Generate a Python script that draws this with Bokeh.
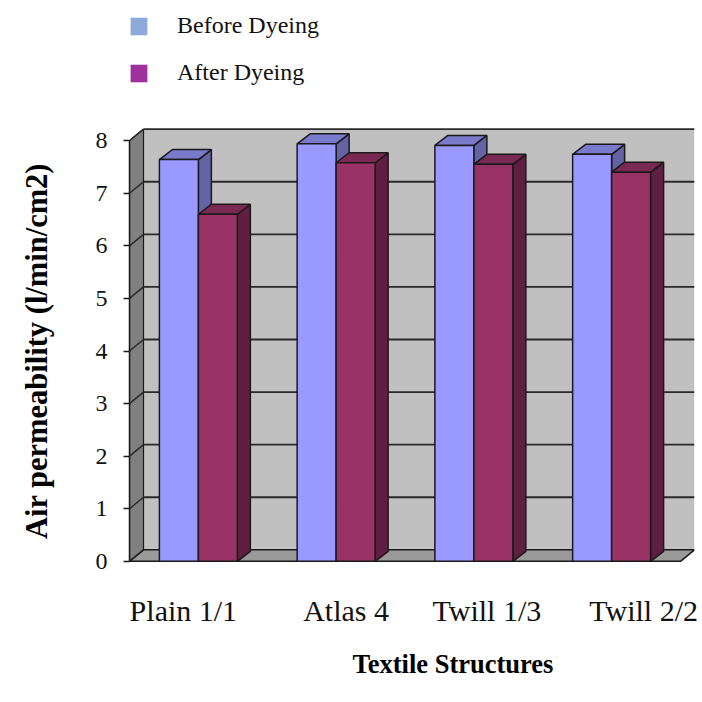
from bokeh.plotting import figure
from bokeh.layouts import column
from bokeh.models import (Range1d, FixedTicker, Legend, LegendItem, Title,
                          ColumnDataSource)
from bokeh.embed import file_html
from bokeh.resources import INLINE

# ---------------- data ----------------
categories = ["Plain 1/1", "Atlas 4", "Twill 1/3", "Twill 2/2"]
before_dyeing = [7.64, 7.94, 7.91, 7.74]
after_dyeing = [6.60, 7.58, 7.55, 7.40]
series_names = ["Before Dyeing", "After Dyeing"]
y_ticks = [0, 1, 2, 3, 4, 5, 6, 7, 8]
y_title = "Air permeability (l/min/cm2)"
x_title = "Textile Structures"

# ---------------- style ----------------
FONT = "Liberation Serif"
LEG_H = 100
FRAME_W, FRAME_H = 565, 447
PX_X = 137.75
Y0, Y1 = -0.25, 8.25
PX_Y = FRAME_H / (Y1 - Y0)
X1 = FRAME_W / PX_X
WALL_DX, WALL_DY = 14 / PX_X, 11.5 / PX_Y
BAR_DX, BAR_DY = 13 / PX_X, 10 / PX_Y
BAR_W = 0.283
LABEL_SHIFT_PX = [-15, 10, 13, 32]
EDGE = "#1a1a1a"

bar_styles = [
    dict(front="#9999FF", top="#7A7ACC", side="#6363A6"),
    dict(front="#993366", top="#7A2952", side="#601F40"),
]
legend_colors = ["#8EAADB", "#A0309E"]

ncat = len(categories)
ymax = max(y_ticks)

# ================= legend strip =================
lg = figure(width=702, height=LEG_H, output_backend="svg", toolbar_location=None,
            x_range=Range1d(0, 1), y_range=Range1d(0, 1),
            x_axis_location=None, y_axis_location=None,
            min_border=0)
lg.outline_line_color = None
lg.grid.visible = False
# zero-size swatch glyphs: only their legend entries are visible
leg_r = [lg.quad(left=[0], right=[0], top=[0], bottom=[0], fill_color=c, line_color=None)
         for c in legend_colors]
legend = Legend(items=[LegendItem(label=n, renderers=[r]) for n, r in zip(series_names, leg_r)],
                location=(-1, 14), orientation="vertical",
                glyph_width=21, glyph_height=22, label_height=22,
                label_standoff=28, spacing=20, padding=0, margin=0,
                border_line_color=None, background_fill_alpha=0,
                label_text_font=FONT, label_text_font_size="24px",
                label_text_color="#111111")
lg.add_layout(legend)

# ================= main chart =================
p = figure(width=702, height=702 - LEG_H, output_backend="svg", toolbar_location=None,
           x_range=Range1d(0, X1), y_range=Range1d(Y0, Y1),
           min_border_left=129, min_border_right=8,
           min_border_top=127 - LEG_H, min_border_bottom=702 - LEG_H - (127 - LEG_H) - FRAME_H)
p.outline_line_color = None
p.grid.visible = False

# ---- 3D walls ----
p.quad(left=[WALL_DX], right=[ncat + WALL_DX], bottom=[WALL_DY], top=[ymax + WALL_DY],
       fill_color="#C0C0C0", line_color=None)
p.patch(x=[0, WALL_DX, WALL_DX, 0], y=[0, WALL_DY, ymax + WALL_DY, ymax],
        fill_color="#808080", line_color=EDGE, line_width=1.2)
p.patch(x=[0, ncat, ncat + WALL_DX, WALL_DX], y=[0, 0, WALL_DY, WALL_DY],
        fill_color="#9A9A9A", line_color=EDGE, line_width=1.5)

grid_vals = [v for v in y_ticks if v > 0]
p.segment(x0=[WALL_DX] * len(grid_vals), y0=[v + WALL_DY for v in grid_vals],
          x1=[ncat + WALL_DX] * len(grid_vals), y1=[v + WALL_DY for v in grid_vals],
          line_color="#2a2a2a", line_width=1.8)
p.segment(x0=[0] * len(y_ticks), y0=y_ticks,
          x1=[WALL_DX] * len(y_ticks), y1=[v + WALL_DY for v in y_ticks],
          line_color="#2a2a2a", line_width=1.5)

# ---- 3D bars ----
for s, vals in enumerate([before_dyeing, after_dyeing]):
    st = bar_styles[s]
    x0s = [i + 0.5 - BAR_W + s * BAR_W for i in range(ncat)]
    x1s = [x + BAR_W for x in x0s]
    side = ColumnDataSource(dict(
        xs=[[a, a + BAR_DX, a + BAR_DX, a] for a in x1s],
        ys=[[0, BAR_DY, v + BAR_DY, v] for v in vals]))
    top = ColumnDataSource(dict(
        xs=[[a, b, b + BAR_DX, a + BAR_DX] for a, b in zip(x0s, x1s)],
        ys=[[v, v, v + BAR_DY, v + BAR_DY] for v in vals]))
    p.patches("xs", "ys", source=side, fill_color=st["side"], line_color=EDGE, line_width=1.5)
    p.patches("xs", "ys", source=top, fill_color=st["top"], line_color=EDGE, line_width=1.5)
    p.quad(left=x0s, right=x1s, bottom=[0] * ncat, top=vals,
           fill_color=st["front"], line_color=EDGE, line_width=1.5)

# ---- axes ----
label_pos = [i + 0.5 + LABEL_SHIFT_PX[i] / PX_X for i in range(ncat)]
xa = p.xaxis[0]
xa.ticker = FixedTicker(ticks=label_pos)
xa.major_label_overrides = {pos: c for pos, c in zip(label_pos, categories)}
xa.axis_line_color = None
xa.major_tick_line_color = None
xa.minor_tick_line_color = None
xa.major_label_standoff = 13
xa.major_label_text_font = FONT
xa.major_label_text_font_size = "30px"
xa.major_label_text_color = "#111111"

ya = p.yaxis[0]
ya.ticker = FixedTicker(ticks=y_ticks)
ya.bounds = (0, ymax)
ya.axis_line_color = EDGE
ya.axis_line_width = 1.5
ya.major_tick_line_color = EDGE
ya.major_tick_line_width = 1.5
ya.major_tick_out = 6
ya.major_tick_in = 0
ya.minor_tick_line_color = None
ya.major_label_standoff = 16
ya.major_label_text_font = FONT
ya.major_label_text_font_size = "24px"
ya.major_label_text_color = "#111111"
ya.axis_label = y_title
ya.axis_label_text_font = FONT
ya.axis_label_text_font_size = "30.5px"
ya.axis_label_text_font_style = "bold"
ya.axis_label_text_color = "#000000"
ya.axis_label_standoff = 39

p.add_layout(Title(text=x_title, align="left", offset=223, standoff=34, text_font=FONT,
                   text_font_size="26.5px", text_font_style="bold",
                   text_color="#000000"), "below")

layout = column(lg, p, spacing=0)
open("out.html", "w").write(file_html(layout, INLINE))
